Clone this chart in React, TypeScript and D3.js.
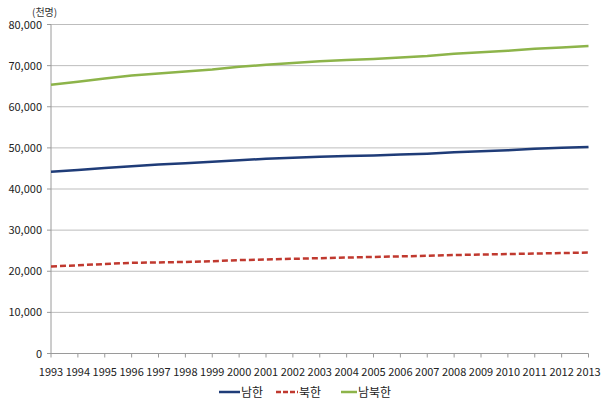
import React from "react";
import * as d3 from "d3";

const years = [1993,1994,1995,1996,1997,1998,1999,2000,2001,2002,2003,2004,2005,2006,2007,2008,2009,2010,2011,2012,2013];
const south = [44195,44642,45093,45525,45954,46287,46617,47008,47357,47622,47859,48039,48138,48372,48598,48949,49182,49410,49779,50004,50220];
const north = [21152,21451,21764,22061,22139,22267,22433,22702,22851,23029,23179,23325,23480,23624,23759,23932,24062,24187,24308,24427,24545];
const total = south.map((v, i) => v + north[i]);
const yTicks = [0,10000,20000,30000,40000,50000,60000,70000,80000];
const seriesNames = ["남한", "북한", "남북한"];
const unitLabel = "(천명)";

const W = 606, H = 406;
const left = 51, right = 588.5, top = 24.5, bottom = 353.5;
const font = "'Noto Sans CJK KR', 'Open Sans', sans-serif";

export default function App() {
  const x = d3.scalePoint<number>().domain(years).range([left, right]);
  const y = d3.scaleLinear().domain([0, 80000]).range([bottom, top]);
  const line = d3.line<number>().x((_, i) => x(years[i])!).y(d => y(d));
  const fmt = d3.format(",");
  const series = [
    { name: seriesNames[0], data: south, color: "#1F3C78", dash: "" },
    { name: seriesNames[1], data: north, color: "#C0392F", dash: "6,3" },
    { name: seriesNames[2], data: total, color: "#8DB44A", dash: "" },
  ];
  const legendX = [219, 276, 341];
  const legendLen = [21, 22, 16];
  return (
    <svg width={W} height={H} style={{ position: "absolute", left: 0, top: 0, background: "#fff" }}>
      <text x={32} y={16} fontSize={10} fontFamily={font} fill="#333">{unitLabel}</text>
      {yTicks.map(t => (
        <g key={t}>
          {t > 0 && <line x1={left} x2={right} y1={y(t)} y2={y(t)} stroke="#BDBDBD" strokeWidth={1} />}
          <line x1={left - 4} x2={left} y1={y(t)} y2={y(t)} stroke="#9A9A9A" />
          <text x={42} y={y(t) + 4} textAnchor="end" fontSize={11} fontFamily={font} fill="#222">{fmt(t)}</text>
        </g>
      ))}
      <line x1={left} x2={left} y1={top} y2={bottom} stroke="#9A9A9A" />
      <line x1={left} x2={right} y1={bottom} y2={bottom} stroke="#9A9A9A" />
      {years.map(yr => (
        <g key={yr}>
          <line x1={x(yr)} x2={x(yr)} y1={bottom} y2={bottom + 4} stroke="#9A9A9A" />
          <text x={x(yr)} y={376} textAnchor="middle" fontSize={11} fontFamily={font} fill="#222">{yr}</text>
        </g>
      ))}
      {series.map(s => (
        <path key={s.name} d={line(s.data)!} fill="none" stroke={s.color} strokeWidth={2.5} strokeDasharray={s.dash || undefined} />
      ))}
      {series.map((s, i) => (
        <g key={s.name}>
          <line x1={legendX[i]} x2={legendX[i] + legendLen[i]} y1={392} y2={392} stroke={s.color} strokeWidth={2.5} strokeDasharray={s.dash ? "5,2" : undefined} />
          <text x={legendX[i] + legendLen[i] + 1} y={396.5} fontSize={12} fontFamily={font} fill="#222">{s.name}</text>
        </g>
      ))}
    </svg>
  );
}
